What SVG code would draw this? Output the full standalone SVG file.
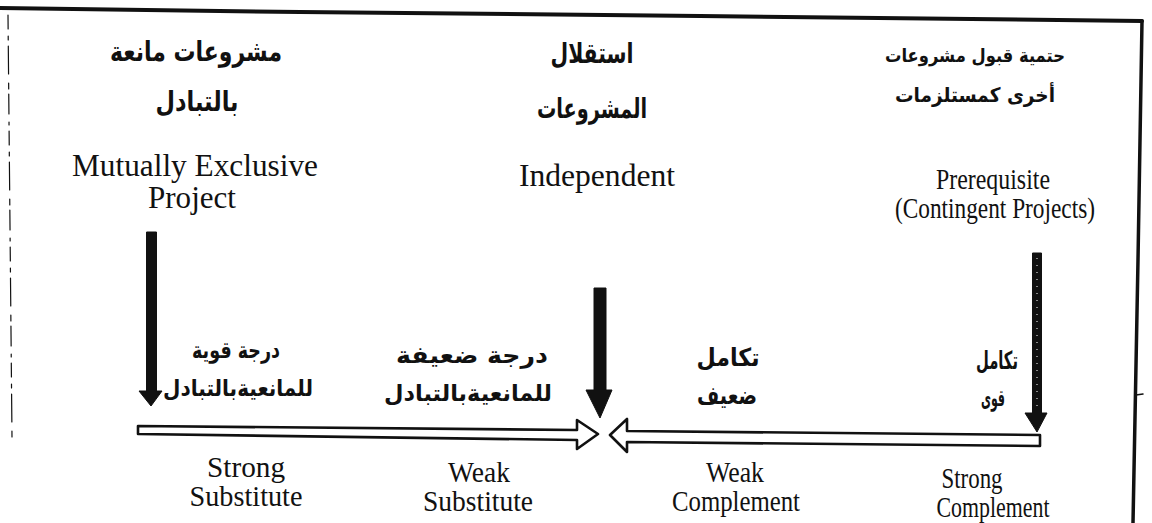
<svg xmlns="http://www.w3.org/2000/svg" width="1152" height="523" viewBox="0 0 1152 523">
  <style>
    .en { font-family: "Liberation Serif", "Times New Roman", serif; fill: #111; text-anchor: middle; }
    .ar { font-family: "DejaVu Sans", "Noto Sans", sans-serif; font-weight: bold; fill: #111; text-anchor: middle; }
    .frame { fill: none; stroke: #111; stroke-linecap: round; stroke-linejoin: round; }
    .solid { fill: #111; stroke: #111; stroke-width: 1; stroke-linejoin: round; }
    .hollow { fill: #fff; stroke: #111; stroke-width: 2.6; stroke-linejoin: round; }
  </style>
  <rect x="0" y="0" width="1152" height="523" fill="#fff"/>

  <g id="frame">
    <path class="frame" d="M0 8 L300 12 L700 16 L1142 21" stroke-width="4"/>
    <path class="frame" d="M1142 21 L1138 260 L1133 523" stroke-width="3.5"/>
    <path class="frame" d="M1136 395 L1143 394" stroke-width="1.5"/>
    <path class="frame" d="M8 15 L12 437" stroke-width="1.2" stroke="#666" stroke-dasharray="14 7 4 6 28 9 6 5 20 8 3 6"/>
  </g>

  <g id="node-mutually-exclusive">
    <text class="ar" x="196" y="61" font-size="28" textLength="172" lengthAdjust="spacingAndGlyphs">مشروعات مانعة</text>
    <text class="ar" x="197" y="111" font-size="28" textLength="83" lengthAdjust="spacingAndGlyphs">بالتبادل</text>
    <text class="en" x="195" y="176" font-size="31" textLength="246" lengthAdjust="spacingAndGlyphs">Mutually Exclusive</text>
    <text class="en" x="192" y="208" font-size="31" textLength="88" lengthAdjust="spacingAndGlyphs">Project</text>
  </g>

  <g id="node-independent">
    <text class="ar" x="592" y="63" font-size="28" textLength="83" lengthAdjust="spacingAndGlyphs">استقلال</text>
    <text class="ar" x="592" y="118" font-size="28" textLength="110" lengthAdjust="spacingAndGlyphs">المشروعات</text>
    <text class="en" x="597" y="186" font-size="31" textLength="156" lengthAdjust="spacingAndGlyphs">Independent</text>
  </g>

  <g id="node-prerequisite">
    <text class="ar" x="975" y="62" font-size="19" textLength="180" lengthAdjust="spacingAndGlyphs">حتمية قبول مشروعات</text>
    <text class="ar" x="975" y="102" font-size="20" textLength="160" lengthAdjust="spacingAndGlyphs">أخرى كمستلزمات</text>
    <text class="en" x="993" y="189" font-size="29" textLength="114" lengthAdjust="spacingAndGlyphs">Prerequisite</text>
    <text class="en" x="995" y="218" font-size="29" textLength="200" lengthAdjust="spacingAndGlyphs">(Contingent Projects)</text>
  </g>

  <g id="node-strong-substitute">
    <text class="ar" x="236" y="358" font-size="23" textLength="88" lengthAdjust="spacingAndGlyphs">درجة قوية</text>
    <text class="ar" x="238" y="396" font-size="23" textLength="150" lengthAdjust="spacingAndGlyphs">للمانعيةبالتبادل</text>
    <text class="en" x="246" y="477" font-size="29" textLength="78" lengthAdjust="spacingAndGlyphs">Strong</text>
    <text class="en" x="246" y="506" font-size="29" textLength="113" lengthAdjust="spacingAndGlyphs">Substitute</text>
  </g>

  <g id="node-weak-substitute">
    <text class="ar" x="472" y="363" font-size="23" textLength="152" lengthAdjust="spacingAndGlyphs">درجة  ضعيفة</text>
    <text class="ar" x="468" y="401" font-size="23" textLength="168" lengthAdjust="spacingAndGlyphs">للمانعيةبالتبادل</text>
    <text class="en" x="479" y="482" font-size="29" textLength="62" lengthAdjust="spacingAndGlyphs">Weak</text>
    <text class="en" x="478" y="511" font-size="29" textLength="110" lengthAdjust="spacingAndGlyphs">Substitute</text>
  </g>

  <g id="node-weak-complement">
    <text class="ar" x="728" y="366" font-size="25" textLength="63" lengthAdjust="spacingAndGlyphs">تكامل</text>
    <text class="ar" x="727" y="404" font-size="25" textLength="60" lengthAdjust="spacingAndGlyphs">ضعيف</text>
    <text class="en" x="735" y="482" font-size="29" textLength="58" lengthAdjust="spacingAndGlyphs">Weak</text>
    <text class="en" x="736" y="511" font-size="29" textLength="128" lengthAdjust="spacingAndGlyphs">Complement</text>
  </g>

  <g id="node-strong-complement">
    <text class="ar" x="997" y="369" font-size="25" textLength="42" lengthAdjust="spacingAndGlyphs">تكامل</text>
    <text class="ar" x="993" y="406" font-size="23" textLength="24" lengthAdjust="spacingAndGlyphs">قوى</text>
    <text class="en" x="972" y="488" font-size="29" textLength="61" lengthAdjust="spacingAndGlyphs">Strong</text>
    <text class="en" x="993" y="517" font-size="29" textLength="113" lengthAdjust="spacingAndGlyphs">Complement</text>
  </g>

  <g id="connectors">
    <path class="solid" d="M146.5 232 L156.5 232 L156.5 391 L162 391 L151 406 L139 391 L146.5 391 Z"/>
    <path class="solid" d="M594 288 L606 288 L606 390 L612 390 L600 418 L586 390 L594 390 Z"/>
    <path class="solid" d="M1032.5 253 L1041.5 253 L1041.5 413 L1047 413 L1037 432 L1025 413 L1032.5 413 Z"/>
    <path d="M1037 258 L1037 410" stroke="#fff" stroke-width="1" stroke-dasharray="1 6" fill="none"/>
    <path class="hollow" d="M138 426 L577 430 L577 420 L598 434 L577 449 L577 440 L138 434 Z"/>
    <path class="hollow" d="M610 435 L627 419 L627 431 L1040 435 L1040 446 L627 442 L627 452 Z"/>
  </g>
</svg>
